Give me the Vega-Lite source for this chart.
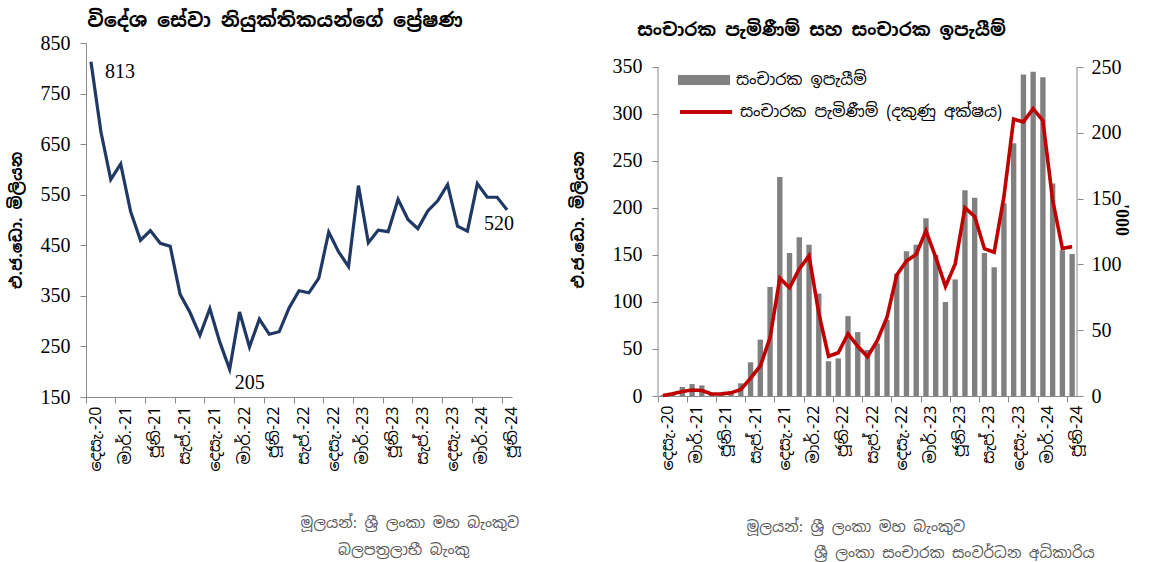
{
  "$schema": "https://vega.github.io/schema/vega-lite/v6.json",
  "background": "white",
  "padding": {"left": 8, "top": 10, "right": 5, "bottom": 3},
  "config": {
    "view": {"stroke": null},
    "font": "Noto Sans Sinhala, Noto Sans, sans-serif",
    "axis": {"domainColor": "#898989", "tickColor": "#898989", "labelColor": "#000000", "grid": false, "titleColor": "#000000"},
    "title": {"color": "#000000"}
  },
  "data": {"values": [
    {"month": "දෙසැ.-20", "remit": 813, "earn": 1, "arr": 0.4},
    {"month": "ජන.-21", "remit": 675, "earn": 3, "arr": 1.7},
    {"month": "පෙබ.-21", "remit": 580, "earn": 9.6, "arr": 3.4},
    {"month": "මාර්.-21", "remit": 611, "earn": 12.7, "arr": 4.6},
    {"month": "අප්‍රේ.-21", "remit": 517, "earn": 11.3, "arr": 4.2},
    {"month": "මැයි-21", "remit": 460, "earn": 1.5, "arr": 1.5},
    {"month": "ජූනි-21", "remit": 479, "earn": 1.5, "arr": 1.6},
    {"month": "ජූලි-21", "remit": 454, "earn": 5, "arr": 2.4},
    {"month": "අගෝ.-21", "remit": 448, "earn": 13.5, "arr": 5.0},
    {"month": "සැප්.-21", "remit": 353, "earn": 36, "arr": 13.5},
    {"month": "ඔක්.-21", "remit": 317, "earn": 60, "arr": 22.8},
    {"month": "නොවැ.-21", "remit": 272, "earn": 116, "arr": 44.3},
    {"month": "දෙසැ.-21", "remit": 325, "earn": 233, "arr": 89.5},
    {"month": "ජන.-22", "remit": 259, "earn": 152, "arr": 82.3},
    {"month": "පෙබ.-22", "remit": 205, "earn": 169, "arr": 96.5},
    {"month": "මාර්.-22", "remit": 318, "earn": 161, "arr": 106.5},
    {"month": "අප්‍රේ.-22", "remit": 249, "earn": 109, "arr": 62.9},
    {"month": "මැයි-22", "remit": 304, "earn": 37, "arr": 30.2},
    {"month": "ජූනි-22", "remit": 274, "earn": 40, "arr": 32.9},
    {"month": "ජූලි-22", "remit": 279, "earn": 85, "arr": 47.3},
    {"month": "අගෝ.-22", "remit": 326, "earn": 68, "arr": 37.8},
    {"month": "සැප්.-22", "remit": 360, "earn": 49, "arr": 29.8},
    {"month": "ඔක්.-22", "remit": 356, "earn": 56, "arr": 42.1},
    {"month": "නොවැ.-22", "remit": 385, "earn": 81, "arr": 59.8},
    {"month": "දෙසැ.-22", "remit": 476, "earn": 130, "arr": 91.9},
    {"month": "ජන.-23", "remit": 437, "earn": 154, "arr": 102.5},
    {"month": "පෙබ.-23", "remit": 408, "earn": 161, "arr": 107.7},
    {"month": "මාර්.-23", "remit": 568, "earn": 189, "arr": 125.5},
    {"month": "අප්‍රේ.-23", "remit": 455, "earn": 150, "arr": 105.5},
    {"month": "මැයි-23", "remit": 480, "earn": 100, "arr": 83.3},
    {"month": "ජූනි-23", "remit": 477, "earn": 124, "arr": 100.4},
    {"month": "ජූලි-23", "remit": 541, "earn": 219, "arr": 143.0},
    {"month": "අගෝ.-23", "remit": 501, "earn": 211, "arr": 136.4},
    {"month": "සැප්.-23", "remit": 483, "earn": 152, "arr": 111.9},
    {"month": "ඔක්.-23", "remit": 518, "earn": 137, "arr": 109.2},
    {"month": "නොවැ.-23", "remit": 538, "earn": 205, "arr": 151.5},
    {"month": "දෙසැ.-23", "remit": 570, "earn": 269, "arr": 210.4},
    {"month": "ජන.-24", "remit": 488, "earn": 342, "arr": 208.3},
    {"month": "පෙබ.-24", "remit": 478, "earn": 345, "arr": 218.4},
    {"month": "මාර්.-24", "remit": 572, "earn": 339, "arr": 209.2},
    {"month": "අප්‍රේ.-24", "remit": 545, "earn": 226, "arr": 148.9},
    {"month": "මැයි-24", "remit": 545, "earn": 155, "arr": 112.1},
    {"month": "ජූනි-24", "remit": 520, "earn": 151, "arr": 113.5}
  ]},
  "spacing": 50,
  "hconcat": [
    {
      "width": 426,
      "height": 354,
      "title": {"text": "විදේශ සේවා නියුක්තිකයන්ගේ ප්‍රේෂණ", "fontSize": 19.5, "fontWeight": "bold", "anchor": "middle", "dx": -24, "offset": 2},
      "encoding": {
        "x": {
          "field": "month", "type": "ordinal", "sort": null,
          "scale": {"type": "band", "paddingInner": 0, "paddingOuter": 0},
          "axis": {
            "values": ["දෙසැ.-20", "මාර්.-21", "ජූනි-21", "සැප්.-21", "දෙසැ.-21", "මාර්.-22", "ජූනි-22", "සැප්.-22", "දෙසැ.-22", "මාර්.-23", "ජූනි-23", "සැප්.-23", "දෙසැ.-23", "මාර්.-24", "ජූනි-24"],
            "bandPosition": 0, "labelOffset": 5, "labelAngle": -90, "labelAlign": "right", "labelBaseline": "middle",
            "labelFontSize": 16, "labelPadding": 3, "tickSize": 6,
            "title": ["මූලයන්: ශ්‍රී ලංකා මහ බැංකුව", "\u200b\u2003\u2003\u2002බලපත්‍රලාභී බැංකු"],
            "titleFontSize": 15, "titleFontWeight": "normal", "titleColor": "#595959", "titleAnchor": "start", "titleAlign": "left", "titleX": 214, "titlePadding": 44, "titleLineHeight": 27
          }
        }
      },
      "layer": [
        {
          "mark": {"type": "line", "color": "#1F3864", "strokeWidth": 3.2},
          "encoding": {
            "x": {"field": "month", "type": "ordinal", "sort": null, "bandPosition": 0.5},
            "y": {
              "field": "remit", "type": "quantitative",
              "scale": {"domain": [150, 850], "nice": false, "zero": false},
              "axis": {"values": [150, 250, 350, 450, 550, 650, 750, 850], "labelFont": "Liberation Serif", "labelFontSize": 20, "labelPadding": 10, "tickSize": 6,
                "title": "එ.ජ.ඩො. මිලියන", "titleFontSize": 16, "titleFontWeight": "bold", "titlePadding": 16}
            }
          }
        },
        {
          "transform": [{"filter": {"field": "month", "equal": "දෙසැ.-20"}}],
          "mark": {"type": "text", "align": "left", "baseline": "middle", "dx": 14, "dy": 10, "font": "Liberation Serif", "fontSize": 20, "color": "#000000"},
          "encoding": {"x": {"field": "month", "type": "ordinal", "sort": null, "bandPosition": 0.5}, "y": {"field": "remit", "type": "quantitative"}, "text": {"field": "remit"}}
        },
        {
          "transform": [{"filter": {"field": "month", "equal": "පෙබ.-22"}}],
          "mark": {"type": "text", "align": "center", "baseline": "middle", "dx": 20, "dy": 14, "font": "Liberation Serif", "fontSize": 20, "color": "#000000"},
          "encoding": {"x": {"field": "month", "type": "ordinal", "sort": null, "bandPosition": 0.5}, "y": {"field": "remit", "type": "quantitative"}, "text": {"field": "remit"}}
        },
        {
          "transform": [{"filter": {"field": "month", "equal": "ජූනි-24"}}],
          "mark": {"type": "text", "align": "center", "baseline": "middle", "dx": -8, "dy": 14, "font": "Liberation Serif", "fontSize": 20, "color": "#000000"},
          "encoding": {"x": {"field": "month", "type": "ordinal", "sort": null, "bandPosition": 0.5}, "y": {"field": "remit", "type": "quantitative"}, "text": {"field": "remit"}}
        }
      ]
    },
    {
      "width": 419,
      "height": 353,
      "title": {"text": "සංචාරක පැමිණීම් සහ සංචාරක ඉපැයීම්", "fontSize": 18, "fontWeight": "bold", "anchor": "middle", "dx": -46, "offset": 3},
      "encoding": {
        "x": {
          "field": "month", "type": "ordinal", "sort": null,
          "scale": {"type": "band", "paddingInner": 0, "paddingOuter": 0},
          "axis": {
            "values": ["දෙසැ.-20", "මාර්.-21", "ජූනි-21", "සැප්.-21", "දෙසැ.-21", "මාර්.-22", "ජූනි-22", "සැප්.-22", "දෙසැ.-22", "මාර්.-23", "ජූනි-23", "සැප්.-23", "දෙසැ.-23", "මාර්.-24", "ජූනි-24"],
            "bandPosition": 0, "labelOffset": 5, "labelAngle": -90, "labelAlign": "right", "labelBaseline": "middle",
            "labelFontSize": 16, "labelPadding": 3, "tickSize": 6,
            "title": ["මූලයන්: ශ්‍රී ලංකා මහ බැංකුව", "\u200b\u2003\u2003\u2003\u2003\u2002ශ්‍රී ලංකා සංචාරක සංවර්ධන අධිකාරිය"],
            "titleFontSize": 15, "titleFontWeight": "normal", "titleColor": "#595959", "titleAnchor": "start", "titleAlign": "left", "titleX": 88, "titlePadding": 49, "titleLineHeight": 26
          }
        }
      },
      "layer": [
        {
          "encoding": {
            "y": {
              "field": "earn", "type": "quantitative",
              "scale": {"domain": [0, 375.53], "nice": false},
              "axis": {"values": [0, 50, 100, 150, 200, 250, 300, 350], "domain": false, "labelFont": "Liberation Serif", "labelFontSize": 20, "labelPadding": 10, "tickSize": 6,
                "title": "එ.ජ.ඩො. මිලියන", "titleFontSize": 16, "titleFontWeight": "bold", "titlePadding": 26}
            }
          },
          "layer": [
            {
              "mark": {"type": "bar", "width": {"band": 0.55}},
              "encoding": {
                "fill": {"datum": "සංචාරක ඉපැයීම්", "type": "nominal", "scale": {"range": ["#808080"]},
                  "legend": {"orient": "none", "legendX": 592, "legendY": 11, "title": null, "padding": 0, "symbolType": "M-1,-0.19H1V0.19H-1Z", "symbolSize": 2704, "symbolStrokeWidth": 0, "labelFontSize": 16, "labelOffset": 6, "labelLimit": 400, "labelColor": "#000000"}}
              }
            },
            {
              "transform": [{"filter": {"field": "month", "equal": "දෙසැ.-20"}}],
              "mark": {"type": "rule", "color": "#898989", "strokeWidth": 1},
              "encoding": {"x": {"field": "month", "type": "ordinal", "sort": null, "bandPosition": 0}, "y": {"datum": 0}, "y2": {"datum": 350}}
            },
            {
              "transform": [{"filter": {"field": "month", "equal": "ජූනි-24"}}],
              "mark": {"type": "rule", "color": "#898989", "strokeWidth": 1},
              "encoding": {"x": {"field": "month", "type": "ordinal", "sort": null, "bandPosition": 1}, "y": {"datum": 0}, "y2": {"datum": 350}}
            }
          ]
        },
        {
          "mark": {"type": "line", "strokeWidth": 3.6},
          "encoding": {
            "x": {"field": "month", "type": "ordinal", "sort": null, "bandPosition": 0.5},
            "y": {
              "field": "arr", "type": "quantitative",
              "scale": {"domain": [0, 268.24], "nice": false},
              "axis": {"orient": "right", "values": [0, 50, 100, 150, 200, 250], "domain": false, "labelFont": "Liberation Serif", "labelFontSize": 20, "labelPadding": 8, "tickSize": 6,
                "title": "'000", "titleFont": "Liberation Serif", "titleFontSize": 18, "titleFontWeight": "bold", "titlePadding": -10}
            },
            "stroke": {"datum": "සංචාරක පැමිණීම් (දකුණු අක්ෂය)", "type": "nominal", "scale": {"range": ["#C00000"]},
              "legend": {"orient": "none", "legendX": 592, "legendY": 41, "title": null, "padding": 0, "symbolType": "stroke", "symbolSize": 2704, "symbolStrokeWidth": 4, "labelFontSize": 16, "labelOffset": 6, "labelLimit": 400, "labelColor": "#000000"}}
          }
        }
      ],
      "resolve": {"scale": {"y": "independent"}}
    }
  ]
}
